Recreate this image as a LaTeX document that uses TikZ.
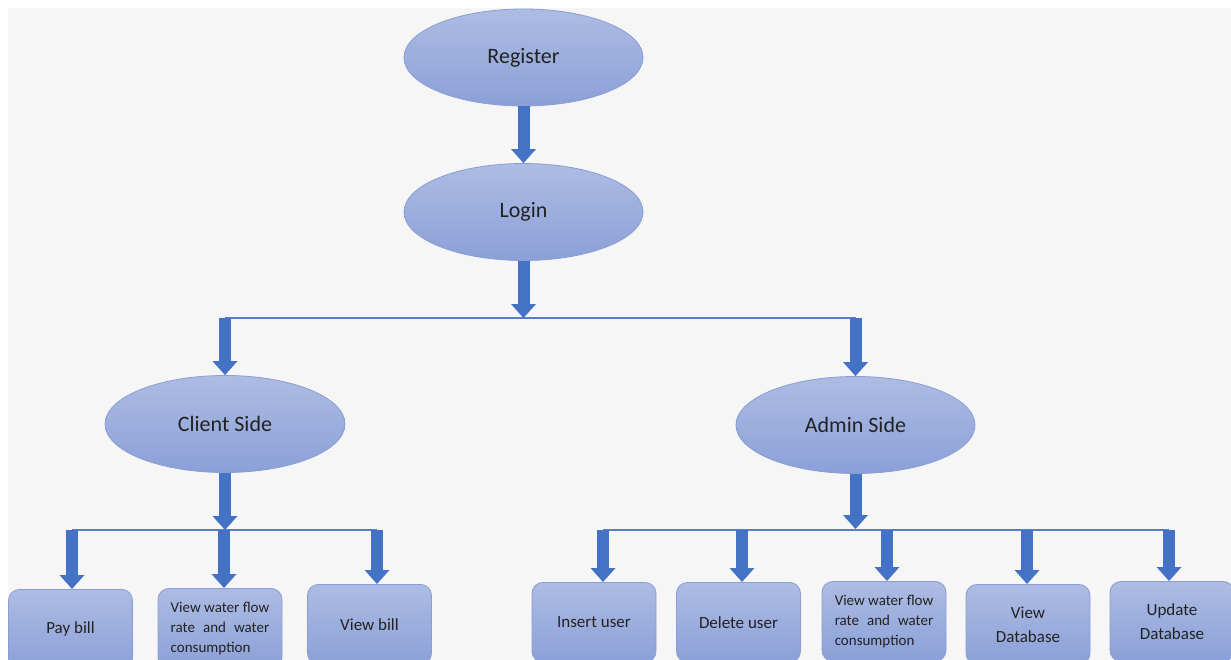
\documentclass[tikz,border=0pt]{standalone}
\usepackage{fontspec}
\setmainfont{Carlito}
\usetikzlibrary{arrows.meta,shapes.geometric}
\definecolor{bgpanel}{HTML}{F6F6F6}
\definecolor{flowblue}{HTML}{4472C4}
\definecolor{linkblue}{HTML}{5B7DC6}
\definecolor{shapetop}{HTML}{ADBCE3}
\definecolor{shapebot}{HTML}{8BA0D8}
\definecolor{shapeline}{HTML}{8A9ED4}
\definecolor{labeltext}{HTML}{222222}
\newlength\flowwd
\begin{document}
\settowidth\flowwd{\fontsize{15}{20}\selectfont View water flow}%
\begin{tikzpicture}[x=1pt,y=-1pt,
  oval/.style={ellipse, minimum width=239pt, minimum height=97pt, inner sep=0pt,
    top color=shapetop, bottom color=shapebot, draw=shapeline, line width=0.8pt,
    text=labeltext, font=\fontsize{22}{26}\selectfont},
  task/.style={rectangle, rounded corners=11pt, anchor=north, minimum width=124pt,
    minimum height=80pt, inner sep=0pt, top color=shapetop, bottom color=shapebot,
    draw=shapeline, line width=0.8pt, text=labeltext,
    font=\fontsize{17}{24}\selectfont, align=center},
  smalltask/.style={task, font=\fontsize{15}{20}\selectfont, align=left},
  flow/.style={draw=flowblue, line width=12pt,
    -{Triangle[width=25pt,length=14pt,line width=0pt]}},
  bar/.style={draw=linkblue, line width=2pt}]

% page and panel
\useasboundingbox (0,0) rectangle (1231,660);
\clip (0,0) rectangle (1231,660);
\fill[white] (0,0) rectangle (1231,660);
\fill[bgpanel] (8,8) rectangle (1231,660);

% main stages
\node[oval] (reg) at (523.5,57.5) {Register};
\node[oval] (login) at (523.5,212) {Login};
\node[oval, minimum width=240pt] (client) at (225,424) {Client Side};
\node[oval] (admin) at (855.5,425) {Admin Side};

% client functions
\node[task] (pay) at (70.5,589) {Pay bill};
\node[smalltask] (cwater) at (220,588)
  {View water flow\\\makebox[\flowwd][s]{rate and water}\\consumption};
\node[task] (vbill) at (369.5,584) {View bill};

% admin functions
\node[task] (ins) at (594,582) {Insert user};
\node[task] (del) at (738.5,582) {Delete user};
\node[smalltask] (awater) at (884,581)
  {View water flow\\\makebox[\flowwd][s]{rate and water}\\consumption};
\node[task] (vdb) at (1028,584) {View\\Database};
\node[task] (upd) at (1172,581) {Update\\Database};

% branch points
\coordinate (top) at (523.5,318);
\coordinate (tl) at (225,318);
\coordinate (tr) at (855.5,318);
\coordinate (cj) at (225,530);
\coordinate (c1) at (72,530);
\coordinate (c2) at (224,530);
\coordinate (c3) at (377,530);
\coordinate (aj) at (855.5,529);
\coordinate (a1) at (603,530);
\coordinate (a2) at (742,530);
\coordinate (a3) at (887,530);
\coordinate (a4) at (1027,530);
\coordinate (a5) at (1169,530);

% branch bars
\draw[bar] (tl) -- (tr);
\draw[bar] (c1) -- (c3);
\draw[bar] (a1) -- (a5);

% flow arrows
\draw[flow] (reg.south) -- (login.north);
\draw[flow] (login.south) -- (top);
\draw[flow] (tl) -- (tl |- client.north);
\draw[flow] (tr) -- (tr |- admin.north);
\draw[flow] (client.south) -- (cj);
\draw[flow] (admin.south) -- (aj);
\draw[flow] (c1) -- (c1 |- pay.north);
\draw[flow] (c2) -- (c2 |- cwater.north);
\draw[flow] (c3) -- (c3 |- vbill.north);
\draw[flow] (a1) -- (a1 |- ins.north);
\draw[flow] (a2) -- (a2 |- del.north);
\draw[flow] (a3) -- (a3 |- awater.north);
\draw[flow] (a4) -- (a4 |- vdb.north);
\draw[flow] (a5) -- (a5 |- upd.north);
\end{tikzpicture}
\end{document}
